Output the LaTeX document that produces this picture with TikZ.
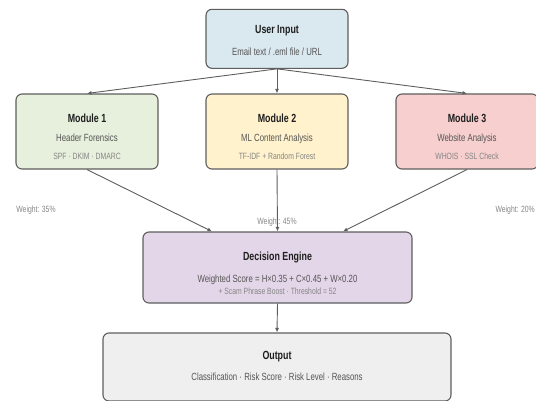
\documentclass[tikz,border=0pt]{standalone}
\usepackage{fontspec}
\setmainfont{Liberation Sans}[FakeStretch=0.75]
\usepackage{tikz}
\usetikzlibrary{arrows.meta}
\definecolor{linegray}{HTML}{5E5E5E}
\definecolor{titlegray}{HTML}{1E1E1E}
\definecolor{subgray}{HTML}{555555}
\definecolor{notegray}{HTML}{858585}
\definecolor{inputblue}{HTML}{DAE8F0}
\definecolor{headgreen}{HTML}{E6F0DC}
\definecolor{mlyellow}{HTML}{FFF2CC}
\definecolor{webred}{HTML}{F6CFCE}
\definecolor{enginepurple}{HTML}{E3D6E8}
\definecolor{outgray}{HTML}{EFEFEF}

\begin{document}
\begin{tikzpicture}[x=1pt,y=-1pt,
  box/.style={rectangle,rounded corners=6pt,draw=linegray,line width=1.1pt,inner sep=0pt},
  boxtitle/.style={anchor=base,inner sep=0pt,font=\fontsize{11.8}{13}\selectfont\bfseries,text=titlegray},
  boxsub/.style={anchor=base,inner sep=0pt,font=\fontsize{10.4}{12}\selectfont,text=subgray},
  boxnote/.style={anchor=base,inner sep=0pt,font=\fontsize{9.1}{11}\selectfont,text=notegray},
  flow/.style={-{Latex[length=4.5pt,width=4pt]},linegray,line width=0.9pt}]
\path[clip] (0,0) rectangle (536,400);
% input
\node[box,fill=inputblue,minimum width=142pt,minimum height=59pt] (inp) at (277,38.8) {};
\node[boxtitle] (inpt) at (277,33.5) {User Input};
\node[boxsub] (inps) at (277,55) {Email text / .eml file / URL};
% modules
\node[box,fill=headgreen,minimum width=142pt,minimum height=75pt] (m1) at (87,131.5) {};
\node[boxtitle] (m1t) at (87,122) {Module 1};
\node[boxsub] (m1s) at (87,141.5) {Header Forensics};
\node[boxnote] (m1n) at (87,159) {SPF · DKIM · DMARC};
\node[box,fill=mlyellow,minimum width=142pt,minimum height=75pt] (m2) at (277,131.5) {};
\node[boxtitle] (m2t) at (277,122) {Module 2};
\node[boxsub] (m2s) at (277,141.5) {ML Content Analysis};
\node[boxnote] (m2n) at (277,159) {TF-IDF + Random Forest};
\node[box,fill=webred,minimum width=142pt,minimum height=75pt] (m3) at (467,131.5) {};
\node[boxtitle] (m3t) at (467,122) {Module 3};
\node[boxsub] (m3s) at (467,141.5) {Website Analysis};
\node[boxnote] (m3n) at (467,159) {WHOIS · SSL Check};
\draw[flow] (inp.south) -- (m1.north);
\draw[flow] (inp.south) -- (m2.north);
\draw[flow] (inp.south) -- (m3.north);
% weights
\node[boxnote] (w1) at (36,212) {Weight: 35\%};
\node[boxnote] (w2) at (277,224) {Weight: 45\%};
\node[boxnote,anchor=base east] (w3) at (535,212) {Weight: 20\%};
% engine
\node[box,fill=enginepurple,minimum width=269pt,minimum height=71pt] (eng) at (277.5,267.5) {};
\node[boxtitle] (engt) at (277.5,260) {Decision Engine};
\node[boxsub] (engs) at (277.5,282) {Weighted Score = H×0.35 + C×0.45 + W×0.20};
\node[boxnote] (engn) at (277.5,294) {+ Scam Phrase Boost · Threshold = 52};
\draw[flow] (m1.south) -- ([xshift=-65.5pt]eng.north);
\draw[flow] (m2.south) -- (eng.north);
\draw[flow] (m3.south) -- ([xshift=65.5pt]eng.north);
% output
\node[box,fill=outgray,minimum width=348pt,minimum height=68pt] (out) at (277,367) {};
\node[boxtitle] (outt) at (277,359) {Output};
\node[boxsub] (outs) at (277,380) {Classification · Risk Score · Risk Level · Reasons};
\draw[flow] (eng.south) -- (out.north);
\end{tikzpicture}
\end{document}
